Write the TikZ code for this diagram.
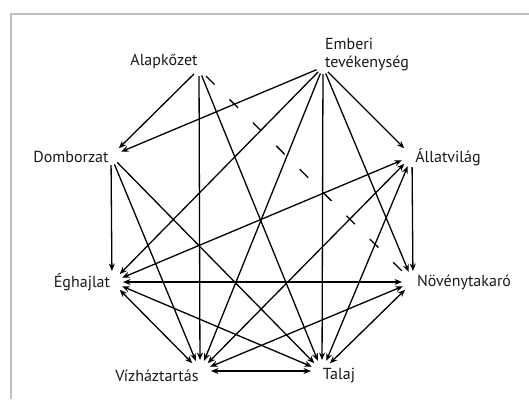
\documentclass[tikz,border=0pt]{standalone}
\usepackage{fontspec}
\setmainfont{PT Sans}
\usepackage{tikz}
\usetikzlibrary{arrows.meta}
\tikzset{
  fac/.style={inner sep=0pt, align=left, text=black!90, font=\fontsize{16}{18}\selectfont},
  facarrow/.style={-{Stealth[length=7.5pt,width=6pt]}, line width=1.3pt,
                   shorten <=7pt, shorten >=11pt},
  facboth/.style={{Stealth[length=7.5pt,width=6pt]}-{Stealth[length=7.5pt,width=6pt]},
                  line width=1.3pt, shorten <=11pt, shorten >=11pt},
  facdash/.style={line width=1.3pt, dash pattern=on 12pt off 21pt,
                  shorten <=10pt, shorten >=14pt}
}
\begin{document}
\begin{tikzpicture}[x=1pt,y=-1pt]
\useasboundingbox (0,0) rectangle (529,399);
\draw[black!25, line width=2pt] (11,399) -- (11,14) -- (529,14);
\node[fac] (alap) at (164,61) {Alapkőzet};
\node[fac] (emb) at (367,55) {Emberi\\tevékenység};
\node[fac] (dom) at (71,157) {Domborzat};
\node[fac] (all) at (448,157) {Állatvilág};
\node[fac] (eg) at (82,282) {Éghajlat};
\node[fac] (nov) at (464,282) {Növénytakaró};
\node[fac] (viz) at (157,376) {Vízháztartás};
\node[fac] (tal) at (339,376) {Talaj};
\coordinate (alapH) at (199,69);
\coordinate (embH) at (323,67);
\coordinate (domH) at (111,156);
\coordinate (allH) at (412,156);
\coordinate (egH) at (112,282);
\coordinate (novH) at (413,282);
\coordinate (vizH) at (200,371);
\coordinate (talH) at (322,371);
\draw[facarrow] (alapH) -- (domH);
\draw[facarrow] (alapH) -- (vizH);
\draw[facarrow] (alapH) -- (talH);
\draw[facdash] (alapH) -- (novH);
\draw[facarrow] (embH) -- (domH);
\draw[facarrow] (embH) -- (egH);
\draw[facarrow] (embH) -- (vizH);
\draw[facarrow] (embH) -- (talH);
\draw[facarrow] (embH) -- (novH);
\draw[facarrow] (embH) -- (allH);
\draw[facarrow, shorten <=9pt] (domH) -- (egH);
\draw[facarrow, shorten <=9pt] (domH) -- (vizH);
\draw[facarrow, shorten <=9pt] (domH) -- (talH);
\draw[facarrow, shorten <=11pt] (allH) -- (novH);
\draw[facboth] (egH) -- (allH);
\draw[facboth] (egH) -- (novH);
\draw[facboth] (egH) -- (vizH);
\draw[facboth] (egH) -- (talH);
\draw[facboth] (vizH) -- (allH);
\draw[facboth] (vizH) -- (novH);
\draw[facboth] (vizH) -- (talH);
\draw[facboth] (talH) -- (allH);
\draw[facboth] (talH) -- (novH);
\end{tikzpicture}
\end{document}
